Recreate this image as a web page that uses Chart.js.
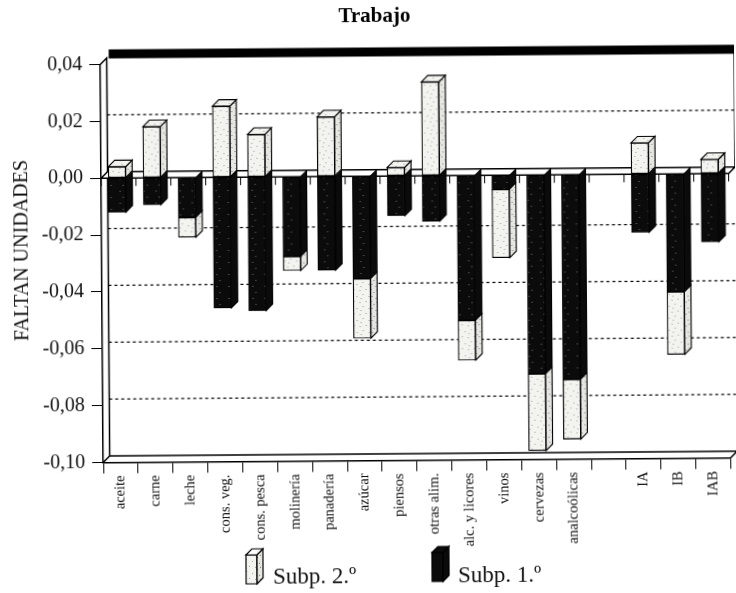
<!DOCTYPE html>
<html><head><meta charset="utf-8">
<style>html,body{margin:0;padding:0;background:#fff;overflow:hidden}
#wrap{width:736px;height:593px;transform:rotate(-0.43deg);transform-origin:50% 50%}
canvas{display:block}</style>
<script src="https://cdn.jsdelivr.net/npm/chart.js@4"></script>
</head><body><div id="wrap"><canvas id="c" width="736" height="593"></canvas></div>
<script>
const chartTitle = 'Trabajo';
const axisTitle = 'FALTAN UNIDADES';
const categories = ['aceite','carne','leche','cons. veg.','cons. pesca','molinería','panadería','azúcar','piensos','otras alim.','alc. y licores','vinos','cervezas','analcoólicas','','IA','IB','IAB'];
const subp1 = [-0.012,-0.0095,-0.014,-0.046,-0.047,-0.028,-0.033,-0.036,-0.014,-0.016,-0.051,-0.005,-0.070,-0.072,null,-0.0205,-0.0415,-0.024];
const subp2 = [0.004,0.018,-0.007,0.025,0.015,-0.005,0.021,-0.021,0.003,0.033,-0.014,-0.024,-0.027,-0.021,null,0.011,-0.022,0.005];
const seriesNames = ['Subp. 1.º','Subp. 2.º'];

const DEPTH = 6.5, SHIFT = -1.5;
const SERIF = '"Liberation Serif", serif';

function speckle(bg, dot, cells){
  const p = document.createElement('canvas'); p.width = p.height = 12;
  const g = p.getContext('2d'); g.fillStyle = bg; g.fillRect(0,0,12,12);
  g.fillStyle = dot; cells.forEach(c => g.fillRect(c[0],c[1],1,1));
  return g.createPattern(p,'repeat');
}
const ctx0 = document.getElementById('c').getContext('2d');
const lightFill = speckle('#f3f3f0','#9a9a9a',[[1,2],[7,1],[4,6],[10,8],[2,10]]);
const lightSide = speckle('#e6e6e2','#777',[[0,1],[3,4],[6,2],[9,6],[1,8],[5,10],[10,11]]);
const darkFill = speckle('#0b0b0b','#777',[[5,3],[2,9]]);

const frame = {
  id:'frame',
  beforeDatasetsDraw(chart){
    const {ctx, chartArea:a, scales:{x,y}} = chart, d = DEPTH;
    const y0 = y.getPixelForValue(0);
    ctx.save();
    ctx.strokeStyle = '#000'; ctx.lineWidth = 1.2; ctx.setLineDash([3,3]);
    y.ticks.forEach(t => {
      if (Math.abs(t.value) < 1e-9 || t.value >= 0.039 || t.value <= -0.099) return;
      const py = y.getPixelForValue(t.value) - d;
      ctx.beginPath(); ctx.moveTo(a.left + d, py); ctx.lineTo(a.right + d, py); ctx.stroke();
    });
    ctx.setLineDash([]);
    ctx.strokeStyle = '#000'; ctx.lineWidth = 1.5;
    ctx.beginPath();
    ctx.moveTo(a.left, a.top); ctx.lineTo(a.left + d, a.top - d); ctx.lineTo(a.left + d, a.bottom - d);
    ctx.moveTo(a.left, a.bottom); ctx.lineTo(a.left + d, a.bottom - d); ctx.lineTo(a.right + d, a.bottom - d); ctx.lineTo(a.right, a.bottom);
    ctx.moveTo(a.right + d, a.top - d); ctx.lineTo(a.right + d, y0 - d);
    ctx.stroke();
    ctx.fillStyle = '#000';
    ctx.fillRect(a.left + d + 2, a.top - d - 8.5, a.width, 9);
    ctx.fillStyle = '#fff';
    ctx.beginPath();
    ctx.moveTo(a.left, y0); ctx.lineTo(a.left + d, y0 - d); ctx.lineTo(a.right + d, y0 - d); ctx.lineTo(a.right, y0); ctx.closePath();
    ctx.fill(); ctx.stroke();
    ctx.lineWidth = 1;
    for (let i = 0; i <= categories.length; i++){
      const px = x.getPixelForValue(i - 0.5);
      ctx.beginPath(); ctx.moveTo(px, y0); ctx.lineTo(px, y0 + 8); ctx.stroke();
    }
    ctx.translate(SHIFT, 0);
    ctx.lineWidth = 1.1;
    chart.getSortedVisibleDatasetMetas().forEach(meta => {
      const dark = meta.index === 0;
      meta.data.forEach(b => {
        if (b.skip || b.y == null || isNaN(b.y)) return;
        const p = b.getProps(['x','y','base','width']);
        if (p.y === p.base) return;
        const xl = p.x - p.width/2, xr = p.x + p.width/2;
        const t = Math.min(p.y,p.base), bt = Math.max(p.y,p.base);
        const positive = t < y0 - 0.5;
        ctx.fillStyle = dark ? '#0b0b0b' : lightSide;
        ctx.strokeStyle = '#000';
        ctx.beginPath();
        if (!positive && Math.abs(t - y0) < 0.5){
          ctx.moveTo(xr, t); ctx.lineTo(xr + d, t);
        } else {
          ctx.moveTo(xr, t); ctx.lineTo(xr + d, t - d);
        }
        ctx.lineTo(xr + d, bt - d); ctx.lineTo(xr, bt); ctx.closePath();
        ctx.fill(); ctx.stroke();
        if (positive){
          ctx.fillStyle = lightFill;
          ctx.beginPath();
          ctx.moveTo(xl, t); ctx.lineTo(xl + d, t - d); ctx.lineTo(xr + d, t - d); ctx.lineTo(xr, t); ctx.closePath();
          ctx.fill(); ctx.stroke();
        }
      });
    });
  },
  afterDatasetsDraw(chart){ chart.ctx.restore(); }
};

const texts = {
  id:'texts',
  afterDraw(chart){
    const {ctx} = chart;
    ctx.save();
    ctx.fillStyle = '#000'; ctx.textAlign = 'center'; ctx.textBaseline = 'alphabetic';
    ctx.font = 'bold 21px ' + SERIF;
    ctx.fillText(chartTitle, 376.5, 21.5);
    ctx.fillStyle = '#111';
    ctx.font = '20px ' + SERIF;
    ctx.translate(28, 248); ctx.rotate(-Math.PI/2);
    ctx.fillText(axisTitle, 0, 0);
    ctx.restore();
    const items = [[1,244,548,271,582.5],[0,430,547,456,582.5]];
    items.forEach(([ds,ix,iy,tx,ty]) => {
      const w = 11, h = 29, d = 6, dark = ds === 0;
      ctx.save();
      ctx.lineWidth = 1.2; ctx.strokeStyle = '#000';
      ctx.fillStyle = dark ? '#0b0b0b' : lightFill;
      ctx.beginPath(); ctx.rect(ix, iy + d, w, h); ctx.fill(); ctx.stroke();
      ctx.fillStyle = dark ? '#0b0b0b' : lightSide;
      ctx.beginPath(); ctx.moveTo(ix + w, iy + d); ctx.lineTo(ix + w + d, iy); ctx.lineTo(ix + w + d, iy + h); ctx.lineTo(ix + w, iy + d + h); ctx.closePath(); ctx.fill(); ctx.stroke();
      ctx.fillStyle = dark ? '#0b0b0b' : '#fff';
      ctx.beginPath(); ctx.moveTo(ix, iy + d); ctx.lineTo(ix + d, iy); ctx.lineTo(ix + w + d, iy); ctx.lineTo(ix + w, iy + d); ctx.closePath(); ctx.fill(); ctx.stroke();
      ctx.fillStyle = '#111'; ctx.font = '23px ' + SERIF; ctx.textAlign = 'left'; ctx.textBaseline = 'alphabetic';
      ctx.fillText(chart.data.datasets[ds].label, tx, ty);
      ctx.restore();
    });
  }
};

new Chart(ctx0, {
  type:'bar',
  data:{ labels:categories, datasets:[
    {label:seriesNames[0], data:subp1, backgroundColor:darkFill, borderColor:'#000', borderWidth:1, borderSkipped:false, stack:'s'},
    {label:seriesNames[1], data:subp2, backgroundColor:lightFill, borderColor:'#000', borderWidth:1.2, borderSkipped:false, stack:'s'}
  ]},
  options:{
    responsive:false, animation:false, events:[],
    layout:{padding:{left:0,right:6.5,top:62.5,bottom:0}},
    datasets:{bar:{barThickness:17.5}},
    plugins:{ legend:{display:false}, tooltip:{enabled:false}, title:{display:false} },
    scales:{
      x:{stacked:true, afterFit(s){s.height = 132.5;},
        grid:{offset:true, drawOnChartArea:false, drawTicks:true, tickLength:11, color:'#000', lineWidth:1},
        border:{display:true,color:'#000',width:1.5},
        ticks:{autoSkip:false, maxRotation:90, minRotation:90, padding:2, color:'#111', font:{family:SERIF,size:14.5}}
      },
      y:{stacked:true, min:-0.1, max:0.04, afterFit(s){s.width = 102;},
        grid:{drawOnChartArea:false, drawTicks:true, tickLength:11, color:'#000', lineWidth:1},
        border:{display:true,color:'#000',width:1.5},
        ticks:{stepSize:0.02, padding:7, color:'#111', font:{family:SERIF,size:20},
          callback:v => v.toFixed(2).replace('.',',')}
      }
    }
  },
  plugins:[frame,texts]
});
</script></body></html>
